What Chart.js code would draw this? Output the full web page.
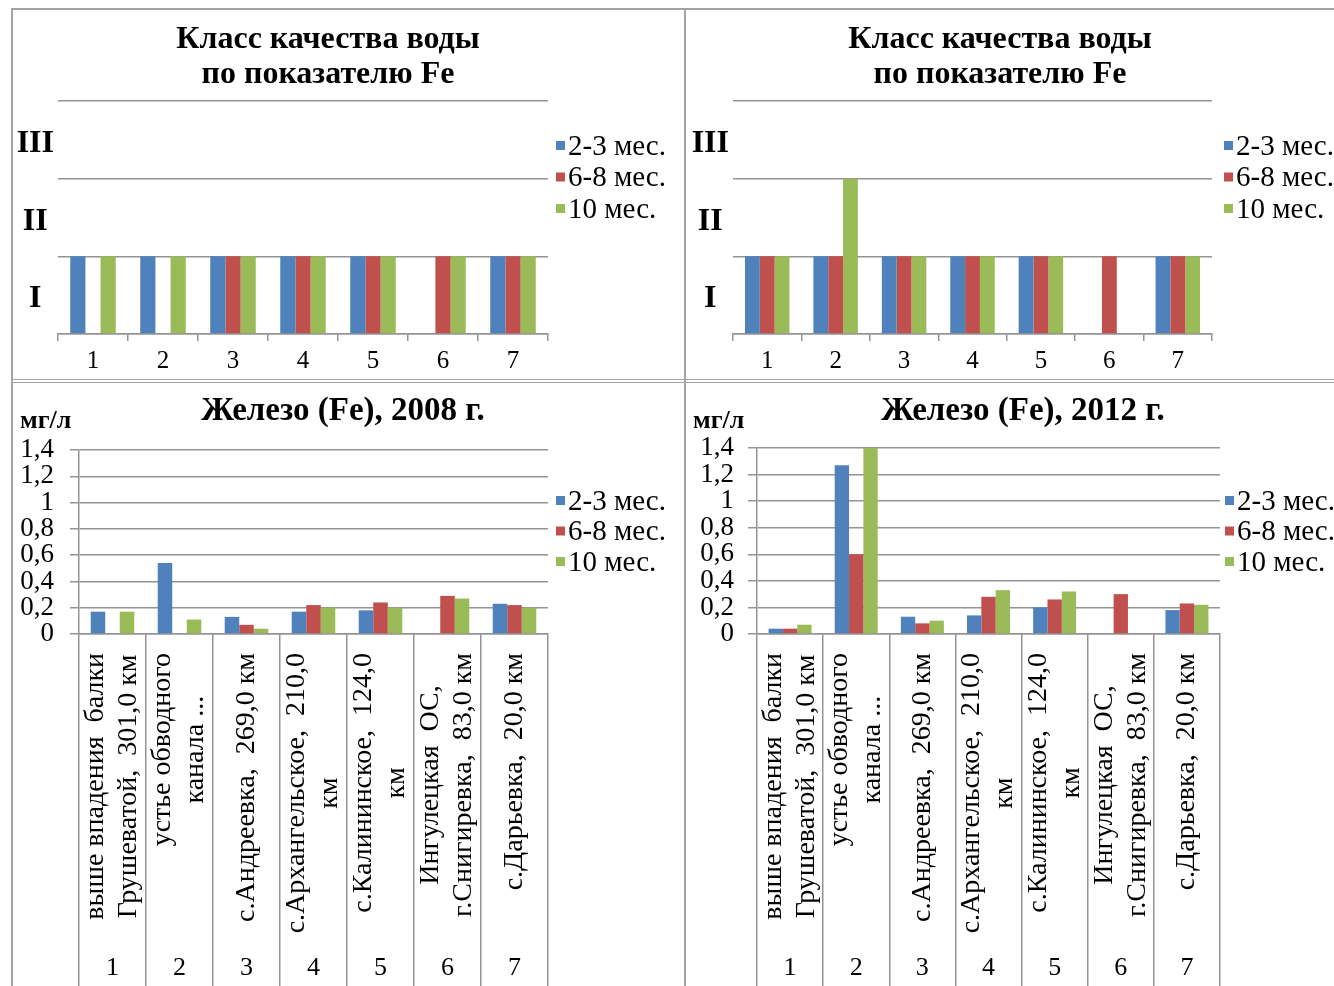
<!DOCTYPE html>
<html lang="ru">
<head>
<meta charset="utf-8">
<title>Железо (Fe)</title>
<script src="https://cdn.jsdelivr.net/npm/chart.js@4.4.1/dist/chart.umd.min.js"></script>
<style>
  html, body { margin: 0; padding: 0; background: #fff; }
  #page { position: relative; width: 1334px; height: 986px; overflow: hidden; }
  canvas { position: absolute; }
  .line { position: absolute; background: #a3a3a3; }
</style>
</head>
<body>
<div id="page">
  <div class="line" style="left:11px; top:8px; width:1323px; height:2px"></div>
  <div class="line" style="left:11px; top:8px; width:2px; height:978px"></div>
  <div class="line" style="left:684px; top:8px; width:2px; height:978px"></div>
  <div class="line" style="left:11px; top:379px; width:1323px; height:1px"></div>
  <div class="line" style="left:11px; top:382px; width:1323px; height:1px"></div>
  <canvas id="klass2008" width="670" height="368" style="left:14px; top:11px"></canvas>
  <canvas id="klass2012" width="646" height="368" style="left:688px; top:11px"></canvas>
  <canvas id="fe2008" width="670" height="603" style="left:14px; top:383px"></canvas>
  <canvas id="fe2012" width="646" height="603" style="left:688px; top:383px"></canvas>
</div>
<script>
const nomera = ["1", "2", "3", "4", "5", "6", "7"];
const periody = ["2-3 мес.", "6-8 мес.", "10 мес."];
const cveta = ["#4F81BD", "#C0504D", "#9BBB59"];
const klassy = ["I", "II", "III"];
const stvory = [
  ["выше впадения  балки", "Грушеватой,  301,0 км"],
  ["устье обводного", "канала ..."],
  ["с.Андреевка,  269,0 км"],
  ["с.Архангельское,  210,0", "км"],
  ["с.Калининское,  124,0", "км"],
  ["Ингулецкая  ОС,", "г.Снигиревка,  83,0 км"],
  ["с.Дарьевка,  20,0 км"]
];

// класс качества воды: 1 = I, 2 = II
const klass2008_23 = [1, 1, 1, 1, 1, null, 1];
const klass2008_68 = [null, null, 1, 1, 1, 1, 1];
const klass2008_10 = [1, 1, 1, 1, 1, 1, 1];
const klass2012_23 = [1, 1, 1, 1, 1, null, 1];
const klass2012_68 = [1, 1, 1, 1, 1, 1, 1];
const klass2012_10 = [1, 2, 1, 1, 1, null, 1];

// железо, мг/л
const fe2008_23 = [0.17, 0.54, 0.13, 0.17, 0.18, null, 0.23];
const fe2008_68 = [null, null, 0.07, 0.22, 0.24, 0.29, 0.22];
const fe2008_10 = [0.17, 0.11, 0.04, 0.20, 0.20, 0.27, 0.20];
const fe2012_23 = [0.04, 1.27, 0.13, 0.14, 0.20, null, 0.18];
const fe2012_68 = [0.04, 0.60, 0.08, 0.28, 0.26, 0.30, 0.23];
const fe2012_10 = [0.07, 1.40, 0.10, 0.33, 0.32, null, 0.22];

const shrift = "'Liberation Serif', 'Times New Roman', serif";
const setka = "#949494";
Chart.defaults.font.family = shrift;
Chart.defaults.color = "#000";

// заголовок, единицы, легенда и подписи створов
const oformlenie = {
  id: "oformlenie",
  afterDraw(chart, args, o) {
    const ctx = chart.ctx;
    ctx.save();
    ctx.fillStyle = "#000";
    ctx.textAlign = "center";
    ctx.textBaseline = "middle";
    ctx.font = "bold " + o.titleSize + "px " + shrift;
    o.title.forEach((s, j) => ctx.fillText(s, o.titleX, o.titleY + j * 35));

    if (o.unit) {
      ctx.textAlign = "left";
      ctx.font = "bold 26px " + shrift;
      ctx.fillText(o.unit, o.unitX, o.unitY);
    }

    ctx.font = "29px " + shrift;
    chart.data.datasets.forEach((ds, i) => {
      const y = o.legendY + i * o.legendStep;
      ctx.fillStyle = ds.backgroundColor;
      ctx.fillRect(o.legendX, y - 6, 9, 9);
      ctx.fillStyle = "#000";
      ctx.textAlign = "left";
      ctx.fillText(ds.label, o.legendX + 12, y);
    });

    if (o.stvory) {
      const xs = chart.scales.x;
      ctx.font = "28px " + shrift;
      ctx.textAlign = "center";
      o.stvory.forEach((stroki, i) => {
        const cx = xs.getPixelForValue(i);
        const shir = Math.max(...stroki.map(s => ctx.measureText(s).width));
        const cy = chart.chartArea.bottom + 19 + shir / 2;
        stroki.forEach((s, j) => {
          const dx = (j - (stroki.length - 1) / 2) * 33;
          ctx.save();
          ctx.translate(cx + dx, cy);
          ctx.rotate(-Math.PI / 2);
          ctx.fillText(s, 0, 0);
          ctx.restore();
        });
      });
    }
    ctx.restore();
  }
};

function naborySerii(d23, d68, d10) {
  return [d23, d68, d10].map((d, i) => ({
    label: periody[i],
    data: d,
    backgroundColor: cveta[i],
    categoryPercentage: 0.65,
    barPercentage: 1
  }));
}

function grafikKlassa(id, d23, d68, d10, r) {
  return new Chart(document.getElementById(id), {
    type: "bar",
    data: { labels: nomera, datasets: naborySerii(d23, d68, d10) },
    options: {
      responsive: false,
      animation: false,
      layout: { padding: { top: 90, left: 0, right: r.right, bottom: 5 } },
      plugins: {
        legend: { display: false },
        tooltip: { enabled: false },
        oformlenie: Object.assign({
          title: ["Класс качества воды", "по показателю Fe"],
          titleSize: 32, titleY: 29, legendY: 136, legendStep: 31.5
        }, r.text)
      },
      scales: {
        x: {
          offset: true,
          grid: { offset: true, drawOnChartArea: false, tickLength: 7, color: setka, lineWidth: 1.5 },
          border: { color: setka, width: 1.5 },
          ticks: { font: { size: 25 }, padding: 5 },
          afterFit: s => { s.height = 40; }
        },
        y: {
          min: 0,
          max: 3,
          ticks: {
            stepSize: 0.5,
            autoSkip: false,
            crossAlign: "center",
            padding: 4,
            labelOffset: 4,
            font: { size: 32, weight: "bold" },
            callback: v => (v % 1 === 0.5 ? klassy[Math.floor(v)] : "")
          },
          grid: {
            drawTicks: false,
            lineWidth: 1.5,
            color: c => (c.tick && Number.isInteger(c.tick.value) ? setka : "rgba(0,0,0,0)")
          },
          border: { display: false },
          afterFit: s => { s.width = r.yWidth; }
        }
      }
    },
    plugins: [oformlenie]
  });
}

function grafikZheleza(id, god, d23, d68, d10, r) {
  return new Chart(document.getElementById(id), {
    type: "bar",
    data: { labels: nomera, datasets: naborySerii(d23, d68, d10) },
    options: {
      responsive: false,
      animation: false,
      layout: { padding: { top: r.top, left: 0, right: r.right, bottom: 0 } },
      plugins: {
        legend: { display: false },
        tooltip: { enabled: false },
        oformlenie: Object.assign({
          title: ["Железо (Fe), " + god + " г."],
          titleSize: 33, titleY: 28,
          unit: "мг/л", unitY: 38,
          legendY: 119, legendStep: 30.5,
          stvory: stvory
        }, r.text)
      },
      scales: {
        x: {
          offset: true,
          grid: { offset: true, drawOnChartArea: false, tickLength: 352, color: setka, lineWidth: 1.5 },
          border: { color: setka, width: 1.5 },
          ticks: { font: { size: 26 }, padding: -33 },
          afterFit: s => { s.height = 352; }
        },
        y: {
          min: 0,
          max: 1.4,
          ticks: {
            stepSize: 0.2,
            autoSkip: false,
            padding: r.tickPad,
            font: { size: 27 },
            callback: v => v.toFixed(1).replace(".", ",").replace(",0", "")
          },
          grid: { tickLength: 9, color: setka, lineWidth: 1.5 },
          border: { color: setka, width: 1.5 },
          afterFit: s => { s.width = r.yWidth; }
        }
      }
    },
    plugins: [oformlenie]
  });
}

grafikKlassa("klass2008", klass2008_23, klass2008_68, klass2008_10, {
  right: 136, yWidth: 44, text: { titleX: 314, legendX: 542 }
});
grafikKlassa("klass2012", klass2012_23, klass2012_68, klass2012_10, {
  right: 122, yWidth: 45, text: { titleX: 312, legendX: 536 }
});
grafikZheleza("fe2008", 2008, fe2008_23, fe2008_68, fe2008_10, {
  top: 67, right: 136, yWidth: 65, tickPad: 16, text: { titleX: 329, unitX: 6, legendX: 542 }
});
grafikZheleza("fe2012", 2012, fe2012_23, fe2012_68, fe2012_10, {
  top: 65, right: 114, yWidth: 69, tickPad: 14, text: { titleX: 335, unitX: 5, legendX: 537 }
});
</script>
</body>
</html>
